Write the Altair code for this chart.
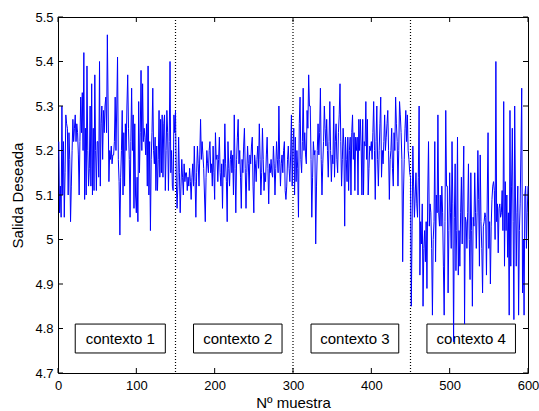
import altair as alt
import pandas as pd

# ---- data ----
ctx1 = [
    5.22, 5.06, 5.12, 5.05, 5.30, 5.10, 5.22, 5.05, 5.15, 5.28,
    5.26, 5.25, 5.10, 5.24, 5.18, 5.04, 5.12, 5.20, 5.27, 5.22,
    5.25, 5.28, 5.22, 5.26, 5.24, 5.19, 5.10, 5.22, 5.32, 5.24,
    5.33, 5.20, 5.42, 5.09, 5.25, 5.10, 5.39, 5.20, 5.12, 5.16,
    5.30, 5.12, 5.35, 5.10, 5.25, 5.11, 5.37, 5.20, 5.11, 5.22,
    5.22, 5.14, 5.40, 5.12, 5.26, 5.30, 5.18, 5.29, 5.24, 5.30,
    5.32, 5.24, 5.46, 5.30, 5.13, 5.20, 5.18, 5.21, 5.17, 5.19,
    5.19, 5.22, 5.32, 5.20, 5.30, 5.41, 5.18, 5.13, 5.01, 5.14,
    5.20, 5.29, 5.10, 5.24, 5.12, 5.26, 5.20, 5.30, 5.37, 5.25,
    5.18, 5.05, 5.22, 5.34, 5.20, 5.28, 5.07, 5.26, 5.10, 5.06,
    5.14, 5.04, 5.31, 5.15, 5.24, 5.38, 5.20, 5.35, 5.22, 5.25,
    5.23, 5.19, 5.26, 5.12, 5.39, 5.10, 5.22, 5.02, 5.18, 5.24,
    5.34, 5.20, 5.17, 5.23, 5.11, 5.21, 5.11, 5.18, 5.29, 5.14,
    5.27, 5.15, 5.28, 5.14, 5.26, 5.28, 5.11, 5.20, 5.29, 5.24,
    5.11, 5.22, 5.40, 5.15, 5.20, 5.12, 5.11, 5.28, 5.24, 5.29,
]
ctx2 = [
    5.13, 5.07, 5.12, 5.23, 5.15, 5.06, 5.12, 5.18, 5.14, 5.10,
    5.17, 5.13, 5.15, 5.15, 5.11, 5.14, 5.12, 5.16, 5.13, 5.09,
    5.14, 5.17, 5.12, 5.21, 5.13, 5.05, 5.15, 5.21, 5.17, 5.12,
    5.19, 5.27, 5.18, 5.22, 5.19, 5.16, 5.10, 5.04, 5.14, 5.20,
    5.17, 5.15, 5.20, 5.22, 5.15, 5.17, 5.12, 5.21, 5.15, 5.09,
    5.24, 5.18, 5.19, 5.13, 5.18, 5.23, 5.15, 5.12, 5.17, 5.07,
    5.18, 5.14, 5.26, 5.17, 5.13, 5.04, 5.22, 5.16, 5.12, 5.18,
    5.20, 5.15, 5.19, 5.10, 5.28, 5.16, 5.06, 5.18, 5.23, 5.27,
    5.17, 5.20, 5.14, 5.07, 5.18, 5.15, 5.21, 5.25, 5.16, 5.07,
    5.15, 5.21, 5.17, 5.11, 5.19, 5.17, 5.21, 5.23, 5.12, 5.06,
    5.19, 5.17, 5.13, 5.18, 5.21, 5.16, 5.26, 5.18, 5.10, 5.15,
    5.25, 5.18, 5.11, 5.15, 5.13, 5.19, 5.23, 5.16, 5.08, 5.17,
    5.15, 5.18, 5.15, 5.14, 5.21, 5.17, 5.10, 5.16, 5.22, 5.18,
    5.15, 5.30, 5.18, 5.12, 5.17, 5.19, 5.15, 5.20, 5.22, 5.11,
    5.09, 5.12, 5.18, 5.21, 5.16, 5.13, 5.19, 5.28, 5.12, 5.21,
]
ctx3 = [
    5.25, 5.10, 5.23, 5.13, 5.20, 5.16, 5.05, 5.26, 5.32, 5.18,
    5.15, 5.22, 5.34, 5.20, 5.24, 5.19, 5.17, 5.29, 5.25, 5.37,
    5.30, 5.30, 5.18, 5.05, 5.14, 5.22, 5.19, 5.20, 4.99, 5.12,
    5.20, 5.26, 5.19, 5.24, 5.34, 5.18, 5.10, 5.17, 5.22, 5.30,
    5.25, 5.21, 5.27, 5.20, 5.14, 5.22, 5.31, 5.20, 5.13, 5.19,
    5.17, 5.30, 5.14, 5.22, 5.26, 5.18, 5.15, 5.24, 5.28, 5.35,
    5.22, 5.12, 5.18, 5.25, 5.21, 5.03, 5.23, 5.18, 5.13, 5.23,
    5.11, 5.20, 5.23, 5.10, 5.24, 5.28, 5.18, 5.24, 5.11, 5.23,
    5.20, 5.23, 5.10, 5.27, 5.20, 5.27, 5.21, 5.10, 5.27, 5.10,
    5.22, 5.21, 5.31, 5.18, 5.27, 5.10, 5.16, 5.21, 5.20, 5.22,
    5.18, 5.24, 5.31, 5.20, 5.09, 5.22, 5.30, 5.18, 5.12, 5.20,
    5.26, 5.32, 5.14, 5.20, 5.17, 5.22, 5.28, 5.20, 5.23, 5.26,
    5.29, 5.20, 5.09, 5.18, 5.20, 5.25, 5.16, 5.12, 5.24, 5.20,
    5.32, 5.26, 5.22, 5.12, 5.20, 5.31, 5.28, 5.24, 5.18, 4.95,
    5.10, 5.18, 5.25, 5.29, 5.22, 5.28, 5.20, 5.18, 5.15, 5.14,
]
ctx4 = [
    4.85, 5.02, 5.21, 5.12, 5.05, 5.10, 5.15, 5.08, 5.05, 5.14,
    5.30, 4.92, 5.04, 4.99, 5.08, 4.85, 4.98, 5.02, 4.95, 5.04,
    4.89, 5.10, 5.22, 5.03, 5.08, 5.06, 4.98, 4.83, 5.00, 5.04,
    5.22, 4.95, 5.10, 5.06, 5.28, 5.06, 5.03, 5.10, 5.03, 5.12,
    5.06, 4.94, 4.83, 5.04, 5.29, 5.12, 5.12, 4.88, 5.02, 5.15,
    5.06, 4.98, 5.22, 5.08, 4.77, 5.05, 5.17, 4.93, 5.02, 5.23,
    4.92, 5.02, 4.94, 5.06, 5.14, 4.99, 5.10, 5.21, 4.81, 5.05,
    5.04, 4.98, 5.06, 5.17, 5.00, 4.91, 5.15, 5.02, 4.85, 5.05,
    5.03, 5.15, 5.06, 4.98, 5.06, 5.20, 5.09, 4.94, 5.19, 5.04,
    4.98, 4.88, 5.03, 5.04, 5.06, 5.05, 4.92, 5.10, 5.24, 4.98,
    5.04, 4.90, 5.03, 5.09, 5.12, 5.13, 5.11, 5.00, 5.40, 5.04,
    5.08, 4.97, 5.07, 5.08, 5.05, 5.06, 5.11, 5.02, 5.31, 4.94,
    5.13, 5.02, 5.10, 4.96, 5.06, 4.83, 5.29, 4.94, 5.12, 5.25,
    5.04, 4.82, 5.30, 5.10, 4.94, 5.06, 5.12, 4.83, 5.02, 5.08,
    5.20, 5.34, 4.88, 5.00, 4.83, 5.10, 5.12, 4.98, 5.06, 5.12,
]

boundaries = [150, 300, 450]
box_labels = ["contexto 1", "contexto 2", "contexto 3", "contexto 4"]
box_x1 = [22, 173, 323, 471]
box_x2 = [137, 286, 435, 584]
box_y1 = 4.745
box_y2 = 4.81
x_ticks = [0, 100, 200, 300, 400, 500, 600]
y_ticks = [4.7, 4.8, 4.9, 5.0, 5.1, 5.2, 5.3, 5.4, 5.5]

# ---- tables ----
values = ctx1 + ctx2 + ctx3 + ctx4
series = pd.DataFrame({"x": list(range(1, len(values) + 1)), "y": values})
bounds = pd.DataFrame({"b": boundaries})
boxes = pd.DataFrame({
    "label": box_labels,
    "x1": box_x1,
    "x2": box_x2,
    "xm": [(a + b) / 2 for a, b in zip(box_x1, box_x2)],
    "y1": [box_y1] * 4,
    "y2": [box_y2] * 4,
    "ym": [(box_y1 + box_y2) / 2] * 4,
})
xt = pd.DataFrame({"xt": x_ticks})
yt = pd.DataFrame({"yt": y_ticks})

W, H = 470, 356
FONT = "Liberation Sans"

xscale = alt.Scale(domain=[0, 600], nice=False, zero=False)
yscale = alt.Scale(domain=[4.7, 5.5], nice=False, zero=False)

xaxis = alt.Axis(title="Nº muestra", values=x_ticks, format="d", ticks=False,
                 domain=False, grid=False, labelFlush=False, labelPadding=6,
                 titlePadding=3)
yaxis = alt.Axis(title="Salida Deseada", values=y_ticks, format=".1~f",
                 ticks=False, domain=False, grid=False, labelPadding=5,
                 titlePadding=9)

line = alt.Chart(series).mark_line(color="#0000ff", strokeWidth=1).encode(
    x=alt.X("x:Q", scale=xscale, axis=xaxis),
    y=alt.Y("y:Q", scale=yscale, axis=yaxis),
)

dots = alt.Chart(bounds).mark_rule(color="black", strokeDash=[1, 2],
                                   strokeWidth=1.2).encode(
    x=alt.X("b:Q", scale=xscale)
)

rects = alt.Chart(boxes).mark_rect(fill="white", stroke="black",
                                   strokeWidth=1).encode(
    x=alt.X("x1:Q", scale=xscale), x2="x2:Q",
    y=alt.Y("y1:Q", scale=yscale), y2="y2:Q",
)

texts = alt.Chart(boxes).mark_text(font=FONT, fontSize=15, color="black",
                                   baseline="middle", align="center").encode(
    x=alt.X("xm:Q", scale=xscale),
    y=alt.Y("ym:Q", scale=yscale),
    text="label:N",
)

tl = 5
xt_bot = alt.Chart(xt).mark_rule(color="black").encode(
    x=alt.X("xt:Q", scale=xscale), y=alt.value(H), y2=alt.value(H - tl))
xt_top = alt.Chart(xt).mark_rule(color="black").encode(
    x=alt.X("xt:Q", scale=xscale), y=alt.value(0), y2=alt.value(tl))
yt_left = alt.Chart(yt).mark_rule(color="black").encode(
    y=alt.Y("yt:Q", scale=yscale), x=alt.value(0), x2=alt.value(tl))
yt_right = alt.Chart(yt).mark_rule(color="black").encode(
    y=alt.Y("yt:Q", scale=yscale), x=alt.value(W), x2=alt.value(W - tl))

chart = alt.layer(
    rects, texts, dots, line, xt_bot, xt_top, yt_left, yt_right
).properties(
    width=W, height=H,
    autosize=alt.AutoSizeParams(type="none"),
    padding={"left": 58, "top": 17, "right": 11, "bottom": 38},
    background="white",
).configure_view(
    stroke="black", strokeWidth=1
).configure_axis(
    labelFont=FONT, labelFontSize=13, labelColor="black",
    titleFont=FONT, titleFontSize=15, titleFontWeight="normal",
    titleColor="black",
)

chart.save("out.html", embed_options={"renderer": "svg", "actions": False})
